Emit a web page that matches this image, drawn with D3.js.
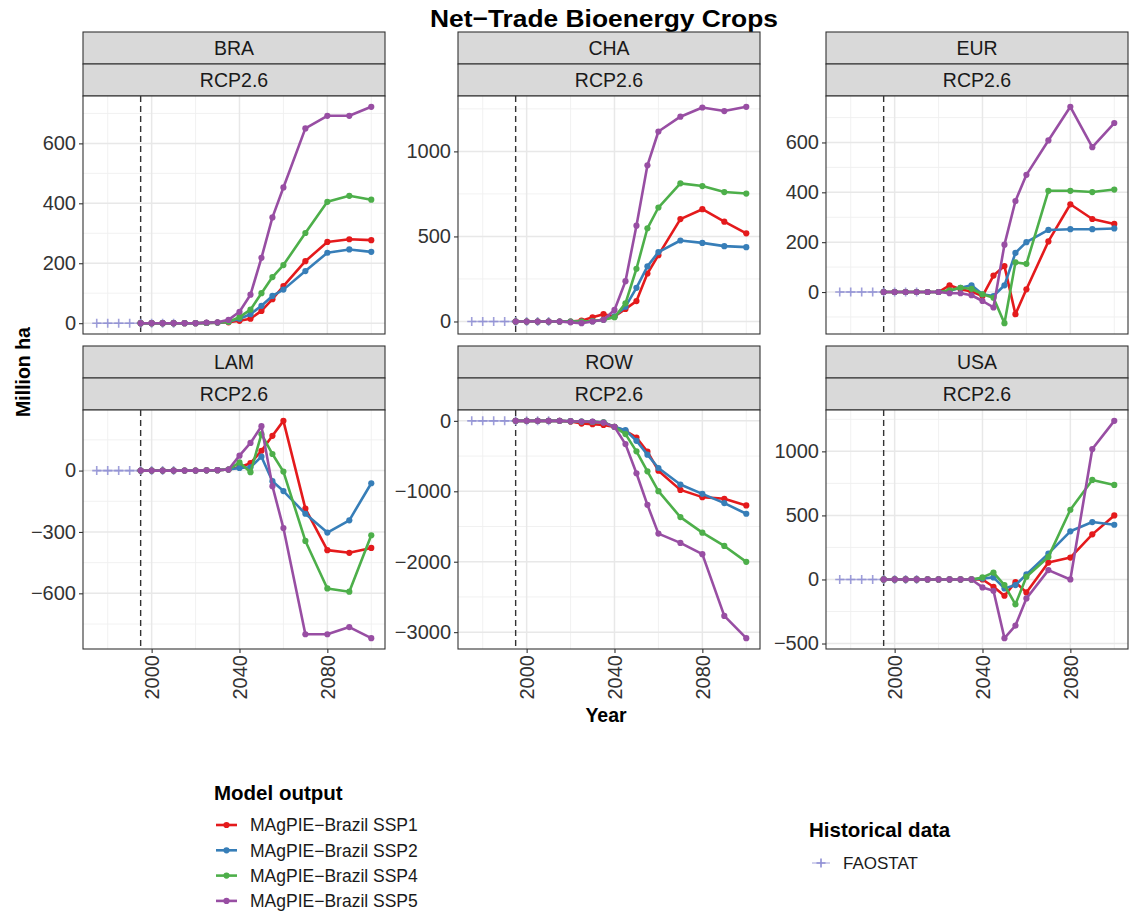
<!DOCTYPE html>
<html><head><meta charset="utf-8">
<script src="https://cdn.jsdelivr.net/npm/d3@7"></script>
<style>
body{margin:0;background:#fff;}
text{font-family:"Liberation Sans",Arial,Helvetica,sans-serif;}
</style></head>
<body><svg id="c" width="1131" height="917"></svg>
<script>
// ---------- data ----------
const regions = ["BRA","CHA","EUR","LAM","ROW","USA"];
const scenarioLabel = "RCP2.6";
const series = ["MAgPIE\u2212Brazil SSP1","MAgPIE\u2212Brazil SSP2","MAgPIE\u2212Brazil SSP4","MAgPIE\u2212Brazil SSP5"];
const seriesColors = ["#E41A1C","#377EB8","#4DAF4A","#984EA3"];
const years = [1995,2000,2005,2010,2015,2020,2025,2030,2035,2040,2045,2050,2055,2060,2070,2080,2090,2100];
const histYears = [1975,1980,1985,1990,1995,2000,2005,2010];
const histLabel = "FAOSTAT";

const BRA_SSP1 = [0,0,0,0,0,0,1,2,3,8,15,41,80,124,207,271,280,277];
const BRA_SSP2 = [0,0,0,0,0,0,1,2,5,15,30,58,91,112,174,235,246,238];
const BRA_SSP4 = [0,0,0,0,0,0,1,2,5,20,45,100,154,194,301,405,425,412];
const BRA_SSP5 = [0,0,0,0,0,0,2,3,11,38,95,218,353,453,650,692,692,722];
const BRA_hist = [0,0,0,0,0,0,0,0];

const CHA_SSP1 = [0,0,0,0,0,0,5,25,43,29,74,120,282,390,602,660,587,518];
const CHA_SSP2 = [0,0,0,0,0,0,0,2,10,30,87,198,324,408,476,462,443,437];
const CHA_SSP4 = [0,0,0,0,0,0,0,2,10,25,107,310,548,670,812,796,761,752];
const CHA_SSP5 = [0,0,0,0,0,-5,-10,0,10,68,237,563,918,1117,1204,1258,1237,1262];
const CHA_hist = [0,0,0,0,0,0,0,0];

const EUR_SSP1 = [0,0,0,0,0,0,27,11,2,-16,66,104,-89,11,203,352,293,273];
const EUR_SSP2 = [0,0,0,0,0,0,5,17,27,-9,-16,27,157,200,249,252,252,255];
const EUR_SSP4 = [0,0,0,0,0,0,7,17,13,-9,-23,-125,119,113,406,406,401,411];
const EUR_SSP5 = [0,0,0,0,0,0,-5,-5,-13,-36,-62,190,365,470,608,743,581,678];
const EUR_hist = [0,0,0,0,0,0,0,0];

const LAM_SSP1 = [0,0,0,0,0,0,1,2,5,16,36,97,170,243,-186,-389,-402,-378];
const LAM_SSP2 = [0,0,0,0,0,0,1,2,5,13,16,68,-52,-100,-211,-303,-243,-62];
const LAM_SSP4 = [0,0,0,0,0,0,1,2,5,40,-8,178,81,-5,-344,-576,-592,-316];
const LAM_SSP5 = [0,0,0,0,0,0,1,2,5,73,135,217,-76,-281,-800,-800,-765,-819];
const LAM_hist = [0,0,0,0,0,0,0,0];

const ROW_SSP1 = [0,0,0,0,0,-10,-38,-47,-57,-85,-141,-236,-438,-707,-980,-1083,-1107,-1201];
const ROW_SSP2 = [0,0,0,0,0,-5,-10,-15,-20,-85,-132,-283,-480,-669,-904,-1036,-1168,-1319];
const ROW_SSP4 = [0,0,0,0,0,-5,-10,-15,-20,-85,-188,-433,-716,-998,-1366,-1587,-1776,-2002];
const ROW_SSP5 = [0,0,0,0,0,-5,-10,-12,-24,-85,-330,-744,-1192,-1601,-1733,-1893,-2769,-3085];
const ROW_hist = [0,0,0,0,0,0,0,0];

const USA_SSP1 = [0,0,0,0,0,0,0,0,0,0,-57,-127,-21,-101,132,171,352,500];
const USA_SSP2 = [0,0,0,0,0,0,0,0,0,8,16,-70,-44,39,202,376,448,427];
const USA_SSP4 = [0,0,0,0,0,0,0,0,0,16,54,-44,-194,21,176,544,777,738];
const USA_SSP5 = [0,0,0,0,0,0,0,0,0,-62,-88,-458,-360,-148,73,0,1018,1238];
const USA_hist = [0,0,0,0,0,0,0,0];

const yTicks = {
  BRA:[0,200,400,600], CHA:[0,500,1000], EUR:[0,200,400,600],
  LAM:[-600,-300,0], ROW:[-3000,-2000,-1000,0], USA:[-500,0,500,1000]
};
const xTicks = [2000,2040,2080];
const xMinor = [1980,2020,2060,2100];
const refYear = 1995;

const modelData = {
  BRA:[BRA_SSP1,BRA_SSP2,BRA_SSP4,BRA_SSP5],
  CHA:[CHA_SSP1,CHA_SSP2,CHA_SSP4,CHA_SSP5],
  EUR:[EUR_SSP1,EUR_SSP2,EUR_SSP4,EUR_SSP5],
  LAM:[LAM_SSP1,LAM_SSP2,LAM_SSP4,LAM_SSP5],
  ROW:[ROW_SSP1,ROW_SSP2,ROW_SSP4,ROW_SSP5],
  USA:[USA_SSP1,USA_SSP2,USA_SSP4,USA_SSP5]
};
const histData = {BRA:BRA_hist,CHA:CHA_hist,EUR:EUR_hist,LAM:LAM_hist,ROW:ROW_hist,USA:USA_hist};

// ---------- layout ----------
const svg = d3.select("#c");
const colX = [83, 458, 826];
const panelW = 302;
const stripTop = [32, 346];
const stripH = 32;
const plotTop = [96, 410];
const plotBot = [334, 649];
const histColor = "#8e8ed4";
const axisTextColor = "#333333";
const FONT = "'Liberation Sans',Arial,sans-serif";

svg.append("text").attr("x", 604).attr("y", 26.5).attr("text-anchor","middle")
  .attr("font-size", 24.5).attr("font-weight","bold").attr("fill","#000")
  .attr("textLength", 348).attr("lengthAdjust","spacingAndGlyphs")
  .text("Net\u2212Trade Bioenergy Crops");

function expand(ext){ const r = ext[1]-ext[0]; return [ext[0]-0.05*r, ext[1]+0.05*r]; }
const xAll = years.concat(histYears);
const xDom = expand(d3.extent(xAll));

regions.forEach((reg, i) => {
  const row = Math.floor(i/3), col = i%3;
  const x0 = colX[col], y0 = plotTop[row], y1 = plotBot[row];
  const g = svg.append("g");
  const xs = d3.scaleLinear().domain(xDom).range([x0, x0+panelW]);
  const vals = modelData[reg].flat().concat(histData[reg]);
  const ys = d3.scaleLinear().domain(expand(d3.extent(vals))).range([y1, y0]);

  // strips
  [reg, scenarioLabel].forEach((lab, k) => {
    const sy = stripTop[row] + k*stripH;
    g.append("rect").attr("x", x0).attr("y", sy).attr("width", panelW).attr("height", stripH)
      .attr("fill","#d9d9d9").attr("stroke","#333").attr("stroke-width",1.1);
    g.append("text").attr("x", x0+panelW/2).attr("y", sy+stripH/2).attr("dy","0.36em")
      .attr("text-anchor","middle").attr("font-size",19.5).attr("fill","#1a1a1a").text(lab);
  });

  // panel background and grid
  g.append("rect").attr("x", x0).attr("y", y0).attr("width", panelW).attr("height", y1-y0).attr("fill","#fff");
  const yt = yTicks[reg];
  const step = yt[1]-yt[0];
  const yMinor = [];
  for (let v = yt[0]-step/2; v <= yt[yt.length-1]+step; v += step) {
    if (v >= ys.domain()[0] && v <= ys.domain()[1]) yMinor.push(v);
  }
  g.selectAll(".ymin").data(yMinor).join("line")
    .attr("x1", x0).attr("x2", x0+panelW).attr("y1", d=>ys(d)).attr("y2", d=>ys(d))
    .attr("stroke","#efefef").attr("stroke-width",0.9);
  g.selectAll(".xmin").data(xMinor.filter(d=>d>=xDom[0]&&d<=xDom[1])).join("line")
    .attr("x1", d=>xs(d)).attr("x2", d=>xs(d)).attr("y1", y0).attr("y2", y1)
    .attr("stroke","#efefef").attr("stroke-width",0.9);
  g.selectAll(".ymaj").data(yt).join("line")
    .attr("x1", x0).attr("x2", x0+panelW).attr("y1", d=>ys(d)).attr("y2", d=>ys(d))
    .attr("stroke","#e8e8e8").attr("stroke-width",1.5);
  g.selectAll(".xmaj").data(xTicks).join("line")
    .attr("x1", d=>xs(d)).attr("x2", d=>xs(d)).attr("y1", y0).attr("y2", y1)
    .attr("stroke","#e8e8e8").attr("stroke-width",1.5);

  // reference dashed line
  g.append("line").attr("x1", xs(refYear)).attr("x2", xs(refYear)).attr("y1", y0).attr("y2", y1)
    .attr("stroke","#333").attr("stroke-width",1.4).attr("stroke-dasharray","6,4");

  // historical
  const hist = histYears.map((yr,k)=>({x:yr, y:histData[reg][k]}));
  g.append("path").datum(hist).attr("fill","none").attr("stroke",histColor).attr("stroke-opacity",0.6)
    .attr("stroke-width",1.6).attr("d", d3.line().x(d=>xs(d.x)).y(d=>ys(d.y)));
  g.selectAll(".hp").data(hist).join("path")
    .attr("d", d=>`M${xs(d.x)-4.5},${ys(d.y)}h9M${xs(d.x)},${ys(d.y)-4.5}v9`)
    .attr("stroke",histColor).attr("stroke-opacity",0.85).attr("stroke-width",1.6);

  // model series
  modelData[reg].forEach((arr, s) => {
    const pts = years.map((yr,k)=>({x:yr, y:arr[k]}));
    g.append("path").datum(pts).attr("fill","none").attr("stroke",seriesColors[s])
      .attr("stroke-width",2.6).attr("stroke-linejoin","round")
      .attr("d", d3.line().x(d=>xs(d.x)).y(d=>ys(d.y)));
    g.selectAll(null).data(pts).join("circle")
      .attr("cx", d=>xs(d.x)).attr("cy", d=>ys(d.y)).attr("r", 3.1).attr("fill", seriesColors[s]);
  });

  // border
  g.append("rect").attr("x", x0).attr("y", y0).attr("width", panelW).attr("height", y1-y0)
    .attr("fill","none").attr("stroke","#333").attr("stroke-width",1.1);

  // y axis
  const ya = g.append("g").attr("transform", `translate(${x0},0)`)
    .call(d3.axisLeft(ys).tickValues(yt).tickSize(4).tickPadding(3).tickFormat(d3.format("d")));
  ya.select(".domain").remove();
  ya.selectAll("line").attr("stroke","#333").attr("stroke-width",1.1);
  ya.selectAll("text").attr("font-size",20).attr("fill",axisTextColor)
    .style("font-family",FONT)
    .text(d => d3.format("d")(d).replace("-","\u2212"));

  // x axis on bottom row only
  if (row === 1) {
    const xa = g.append("g").attr("transform", `translate(0,${y1})`)
      .call(d3.axisBottom(xs).tickValues(xTicks).tickSize(4).tickFormat(d3.format("d")));
    xa.select(".domain").remove();
    xa.selectAll("line").attr("stroke","#333").attr("stroke-width",1.1);
    xa.selectAll("text").attr("font-size",20).attr("fill",axisTextColor)
      .style("font-family",FONT)
      .attr("transform","rotate(-90)").attr("text-anchor","end")
      .attr("x",-6).attr("y",0).attr("dy","0.36em");
  }
});

// axis titles
svg.append("text").attr("transform","translate(30,372) rotate(-90)").attr("text-anchor","middle")
  .attr("font-size",19.5).attr("font-weight","bold").text("Million ha");
svg.append("text").attr("x",606).attr("y",722).attr("text-anchor","middle")
  .attr("font-size",19.5).attr("font-weight","bold").text("Year");

// legend: model output
const lg = svg.append("g");
lg.append("text").attr("x",214).attr("y",800).attr("font-size",20.5).attr("font-weight","bold").text("Model output");
series.forEach((name, s) => {
  const cy = 825 + s*25.3;
  lg.append("line").attr("x1",216).attr("x2",237).attr("y1",cy).attr("y2",cy)
    .attr("stroke",seriesColors[s]).attr("stroke-width",2.6);
  lg.append("circle").attr("cx",226.5).attr("cy",cy).attr("r",3.1).attr("fill",seriesColors[s]);
  lg.append("text").attr("x",250).attr("y",cy).attr("dy","0.36em").attr("font-size",17.5).attr("fill","#1a1a1a").text(name);
});

// legend: historical
const hg = svg.append("g");
hg.append("text").attr("x",809).attr("y",837).attr("font-size",20.5).attr("font-weight","bold").text("Historical data");
hg.append("line").attr("x1",812).attr("x2",830).attr("y1",863).attr("y2",863)
  .attr("stroke",histColor).attr("stroke-opacity",0.5).attr("stroke-width",1.6);
hg.append("path").attr("d","M816.5,863h9M821,858.5v9").attr("stroke",histColor).attr("stroke-width",1.6);
hg.append("text").attr("x",843).attr("y",863).attr("dy","0.36em").attr("font-size",17).attr("fill","#1a1a1a").text(histLabel);
</script>
</body></html>
